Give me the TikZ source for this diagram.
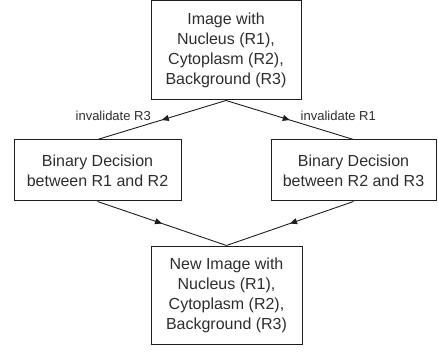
\documentclass[tikz,border=0pt]{standalone}
\usepackage{fontspec}
\setmainfont{Liberation Sans}
\usetikzlibrary{arrows.meta,decorations.markings}
\definecolor{txt}{RGB}{45,45,45}
\definecolor{ln}{RGB}{30,30,30}
\tikzset{
  x=1pt,y=1pt,
  box/.style={draw=ln,line width=1pt,inner sep=0pt,align=center,text=txt,
    font=\fontsize{16}{20}\selectfont},
  lbl/.style={text=txt,inner sep=0pt,font=\fontsize{13}{15}\selectfont},
  flow/.style={draw=ln,line width=0.9pt,postaction={decorate},
    decoration={markings,mark=at position 0.5 with {\arrow{Triangle[length=7pt,width=6pt]}}}}
}
\begin{document}
\begin{tikzpicture}
\useasboundingbox (0,0) rectangle (438,-352);
\node[box,minimum width=150,minimum height=99] (top) at (226,-50.5)
  {Image with\\Nucleus (R1),\\Cytoplasm (R2),\\Background (R3)};
\node[box,minimum width=167,minimum height=61] (left) at (97.5,-170.5)
  {Binary Decision\\between R1 and R2};
\node[box,minimum width=165,minimum height=61] (right) at (353.5,-170.5)
  {Binary Decision\\between R2 and R3};
\node[box,minimum width=151,minimum height=98] (bot) at (226.5,-295)
  {New Image with\\Nucleus (R1),\\Cytoplasm (R2),\\Background (R3)};
\draw[flow] (top.south) -- node[lbl,anchor=east,xshift=-10.5pt,yshift=4.5pt] {invalidate R3} (left.north);
\draw[flow] (top.south) -- node[lbl,anchor=west,xshift=10.5pt,yshift=4.5pt] {invalidate R1} (right.north);
\draw[flow] (left.south) -- (bot.north);
\draw[flow] (right.south) -- (bot.north);
\end{tikzpicture}
\end{document}
